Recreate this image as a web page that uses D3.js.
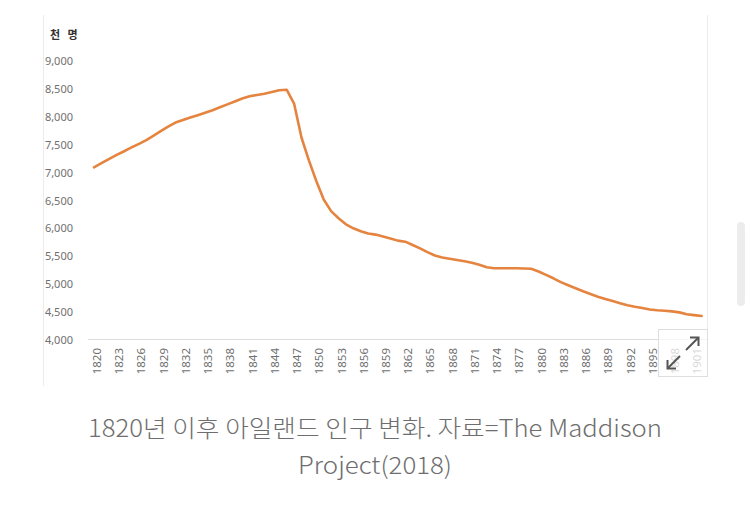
<!DOCTYPE html>
<html>
<head>
<meta charset="utf-8">
<script src="https://cdn.jsdelivr.net/npm/d3@7"></script>
<style>
  html, body { margin: 0; padding: 0; background: #fff; }
  svg { display: block; }
</style>
</head>
<body>
<svg id="chart" width="750" height="506"></svg>
<script>
// ---- data (thousands of people, Ireland) ----
const years = d3.range(1820, 1903);
const population = [
  7095, 7168, 7240, 7312, 7378, 7446, 7511, 7577, 7658, 7742,   // 1820-1829
  7824, 7896, 7941, 7986, 8029, 8073, 8118, 8170, 8222, 8274,   // 1830-1839
  8328, 8369, 8392, 8414, 8444, 8477, 8485, 8238, 7629, 7220,   // 1840-1849
  6850, 6518, 6310, 6183, 6073, 6002, 5950, 5909, 5889, 5855,   // 1850-1859
  5821, 5781, 5762, 5702, 5643, 5575, 5514, 5477, 5455, 5432,   // 1860-1869
  5410, 5385, 5349, 5305, 5285, 5285, 5285, 5285, 5281, 5276,   // 1870-1879
  5228, 5167, 5106, 5038, 4981, 4927, 4875, 4824, 4776, 4735,   // 1880-1889
  4697, 4659, 4622, 4595, 4572, 4548, 4532, 4523, 4513, 4495,   // 1890-1899
  4462, 4446, 4430                                              // 1900-1902
];
const yTicks = [4000, 4500, 5000, 5500, 6000, 6500, 7000, 7500, 8000, 8500, 9000];
const xTickYears = d3.range(1820, 1903, 3);
const unitLabel = "천 명";
const captionLines = ["1820년 이후 아일랜드 인구 변화. 자료=The Maddison", "Project(2018)"];

const svg = d3.select("#chart");

// panel borders
svg.append("line").attr("x1", 43.5).attr("x2", 43.5).attr("y1", 15).attr("y2", 386)
  .attr("stroke", "#ececec").attr("stroke-width", 1);
svg.append("line").attr("x1", 707.5).attr("x2", 707.5).attr("y1", 15).attr("y2", 330)
  .attr("stroke", "#ececec").attr("stroke-width", 1);
// side scroll bar
svg.append("rect").attr("x", 737).attr("y", 222).attr("width", 8).attr("height", 84)
  .attr("rx", 4).attr("fill", "#ececec");

const x = d3.scalePoint().domain(years).range([94, 701.6]);
const y = d3.scaleLinear().domain([4000, 9000]).range([340, 61]);

// unit label
svg.append("text").attr("x", 50).attr("y", 39)
  .attr("font-family", "'Noto Sans CJK KR', 'Noto Sans', sans-serif")
  .attr("font-size", 11).attr("font-weight", "bold").attr("fill", "#333")
  .attr("word-spacing", 5)
  .text(unitLabel);

// y axis
const yAxis = svg.append("g").attr("transform", "translate(73,0)")
  .call(d3.axisLeft(y).tickValues(yTicks).tickSize(0).tickPadding(0)
    .tickFormat(d3.format(",")));
yAxis.select(".domain").remove();
yAxis.selectAll("text")
  .attr("font-family", "'Noto Sans', sans-serif").attr("font-size", 11)
  .attr("fill", "#707070");

// x axis baseline
svg.append("line").attr("x1", 88).attr("x2", 707).attr("y1", 339.5).attr("y2", 339.5)
  .attr("stroke", "#dcdcdc").attr("stroke-width", 1.2);

const xAxis = svg.append("g").attr("transform", "translate(2.5,339)")
  .call(d3.axisBottom(x).tickValues(xTickYears).tickSize(0));
xAxis.select(".domain").remove();
xAxis.selectAll("text")
  .attr("transform", "rotate(-90)")
  .attr("x", -9).attr("y", 0).attr("dy", "0.35em")
  .attr("text-anchor", "end")
  .attr("font-family", "'Noto Sans', sans-serif").attr("font-size", 11.5)
  .attr("fill", "#707070");

// line
const line = d3.line().x((d, i) => x(years[i])).y(d => y(d));
svg.append("path").datum(population)
  .attr("d", line)
  .attr("fill", "none")
  .attr("stroke", "#e5843f")
  .attr("stroke-width", 2.6)
  .attr("stroke-linejoin", "round")
  .attr("stroke-linecap", "round");

// expand icon box (overlays the last labels)
const box = svg.append("g");
box.append("rect").attr("x", 658.5).attr("y", 329.5).attr("width", 49).attr("height", 47)
  .attr("fill", "#fff").attr("fill-opacity", 0.72)
  .attr("stroke", "#dedede").attr("stroke-width", 1);
const arrowStyle = s => s.attr("fill", "none").attr("stroke", "#555").attr("stroke-width", 2)
  .attr("stroke-linecap", "butt");
// up-right arrow
arrowStyle(box.append("path").attr("d", "M686,350 L698,338"));
arrowStyle(box.append("path").attr("d", "M690,337.5 L698.5,337.5 L698.5,346"));
// down-left arrow
arrowStyle(box.append("path").attr("d", "M680,356 L668,368"));
arrowStyle(box.append("path").attr("d", "M667.5,360 L667.5,368.5 L676,368.5"));

// caption
const cap = svg.append("g")
  .attr("font-family", "'Noto Sans CJK KR', sans-serif")
  .attr("font-weight", 300)
  .attr("fill", "#6e6e6e").attr("font-size", 24);
cap.append("text").attr("x", 88).attr("y", 437)
  .attr("textLength", 574).attr("lengthAdjust", "spacingAndGlyphs")
  .text(captionLines[0]);
cap.append("text").attr("x", 298).attr("y", 474)
  .attr("textLength", 154).attr("lengthAdjust", "spacingAndGlyphs")
  .text(captionLines[1]);
</script>
</body>
</html>
